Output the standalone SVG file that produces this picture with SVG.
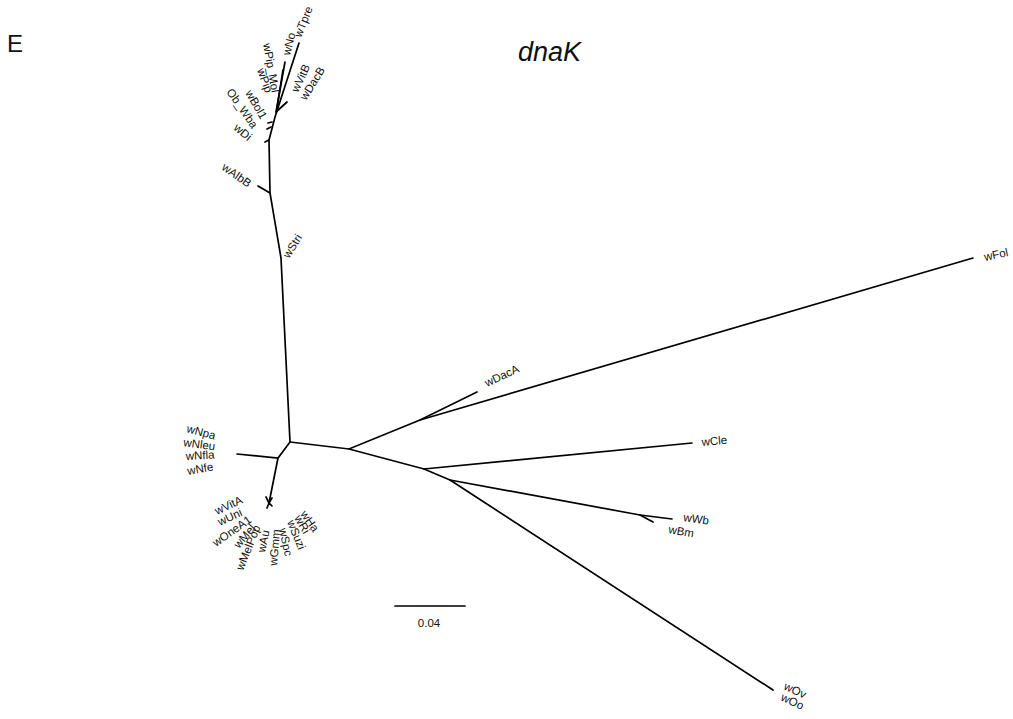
<svg xmlns="http://www.w3.org/2000/svg" width="1013" height="719" viewBox="0 0 1013 719">
<style>
.e{stroke:#000;stroke-width:1.7;fill:none;stroke-linecap:round}
.t{font-family:"Liberation Sans",Arial,sans-serif;font-size:11.5px;fill:#111}
</style>
<rect width="1013" height="719" fill="#fff"/>
<text x="7" y="52" style="font-family:'Liberation Sans',Arial,sans-serif;font-size:24px;fill:#111">E</text>
<text x="518" y="61" style="font-family:'Liberation Sans',Arial,sans-serif;font-size:27px;font-style:italic;fill:#111">dnaK</text>
<g id="connectors" class="e">
<path d="M290,442 L281,258 L270,193 L269,140 L275,117 L299,43"/>
<path d="M270,193 L258,186"/>
<path d="M269,140 L265,142"/>
<path d="M276,112 L285,62"/>
<path d="M277,108 L283,70"/>
<path d="M276,112 L287,102"/>
<path d="M271,127 L267,129"/>
<path d="M272,122 L268,123"/>
<path d="M290,442 L278,458 L237,454"/>
<path d="M278,458 L269,503"/>
<path d="M269,503 L266,497 M269,503 L272,498 M269,503 L267,508 M269,503 L272,506"/>
<path d="M290,442 L349,449 L420,420 L477,392"/>
<path d="M420,420 L973,258"/>
<path d="M349,449 L424,469 L692,443"/>
<path d="M424,469 L450,480 L640,515 L672,519"/>
<path d="M640,515 L653,522"/>
<path d="M450,480 L773,690"/>
<path d="M395,606 L465,606"/>
</g>
<g id="wTpre"><text class="t" transform="translate(301,38) rotate(-68)">wTpre</text></g>
<g id="wNo"><text class="t" transform="translate(290,56) rotate(-76)">wNo</text></g>
<g id="wPip_Mol"><text class="t" transform="translate(263,44) rotate(80)">wPip_Mol</text></g>
<g id="wPip"><text class="t" transform="translate(257,70) rotate(70)">wPip</text></g>
<g id="wBol1"><text class="t" transform="translate(245,93) rotate(60)">wBol1</text></g>
<g id="Ob_Wba"><text class="t" transform="translate(226,92) rotate(55)">Ob_Wba</text></g>
<g id="wDi"><text class="t" transform="translate(233,129) rotate(40)">wDi</text></g>
<g id="wVitB"><text class="t" transform="translate(298,93) rotate(-65)">wVitB</text></g>
<g id="wDacB"><text class="t" transform="translate(306,101) rotate(-58)">wDacB</text></g>
<g id="wAlbB"><text class="t" transform="translate(221,169) rotate(35)">wAlbB</text></g>
<g id="wStri"><text class="t" transform="translate(289,259) rotate(-58)">wStri</text></g>
<g id="wNpa"><text class="t" transform="translate(186,432) rotate(15)">wNpa</text></g>
<g id="wNleu"><text class="t" transform="translate(183,446) rotate(8)">wNleu</text></g>
<g id="wNfla"><text class="t" transform="translate(186,460) rotate(-3)">wNfla</text></g>
<g id="wNfe"><text class="t" transform="translate(188,475) rotate(-10)">wNfe</text></g>
<g id="wVitA"><text class="t" transform="translate(217,515) rotate(-25)">wVitA</text></g>
<g id="wUni"><text class="t" transform="translate(220,526) rotate(-25)">wUni</text></g>
<g id="wOneA1"><text class="t" transform="translate(216,547) rotate(-35)">wOneA1</text></g>
<g id="wMel"><text class="t" transform="translate(239,549) rotate(-50)">wMel</text></g>
<g id="wMelPop"><text class="t" transform="translate(243,571) rotate(-68)">wMelPop</text></g>
<g id="wAu"><text class="t" transform="translate(265,553) rotate(-78)">wAu</text></g>
<g id="wGmm"><text class="t" transform="translate(277,566) rotate(-85)">wGmm</text></g>
<g id="wSpc"><text class="t" transform="translate(279,529) rotate(78)">wSpc</text></g>
<g id="wSuzi"><text class="t" transform="translate(287,522) rotate(68)">wSuzi</text></g>
<g id="wRi"><text class="t" transform="translate(294,518) rotate(60)">wRi</text></g>
<g id="wHa"><text class="t" transform="translate(300,514) rotate(55)">wHa</text></g>
<g id="wDacA"><text class="t" transform="translate(487,387) rotate(-25)">wDacA</text></g>
<g id="wFol"><text class="t" transform="translate(985,261) rotate(-12)">wFol</text></g>
<g id="wCle"><text class="t" transform="translate(702,446) rotate(-5)">wCle</text></g>
<g id="wWb"><text class="t" transform="translate(683,521) rotate(8)">wWb</text></g>
<g id="wBm"><text class="t" transform="translate(668,533) rotate(10)">wBm</text></g>
<g id="wOv"><text class="t" transform="translate(783,689) rotate(25)">wOv</text></g>
<g id="wOo"><text class="t" transform="translate(780,700) rotate(25)">wOo</text></g>
<g id="scale"><text class="t" x="429" y="627" text-anchor="middle">0.04</text></g>
</svg>
